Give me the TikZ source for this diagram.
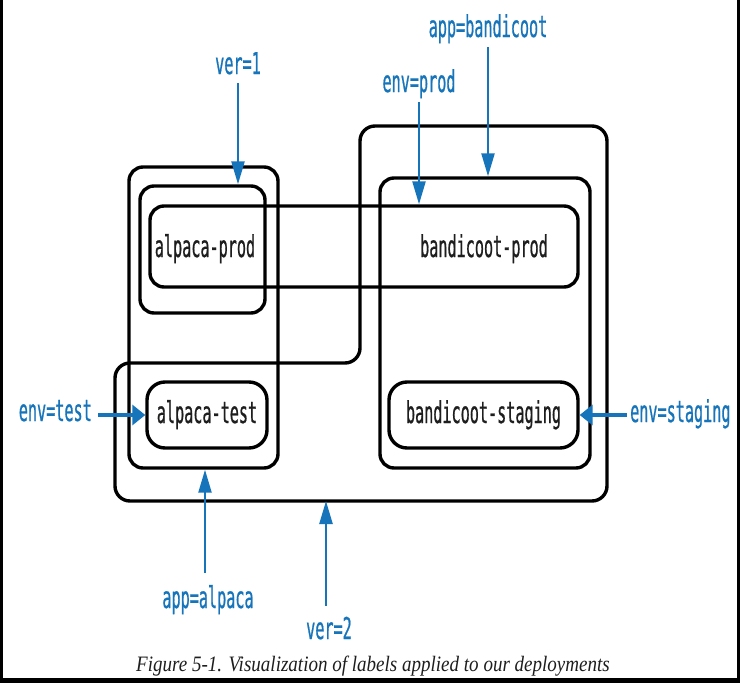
\documentclass[tikz,border=0pt]{standalone}
\usepackage{fontspec}
\usetikzlibrary{arrows.meta,calc}
\newfontfamily\lblfont[FakeStretch=0.505,FakeBold=0.6]{DejaVu Sans Mono}
\newfontfamily\capfont[FakeStretch=0.865]{Liberation Serif}
\definecolor{lblue}{RGB}{22,116,186}
\definecolor{ink}{RGB}{30,30,30}
\begin{document}
\begin{tikzpicture}[x=1pt,y=-1pt,
  grp/.style={draw=black, line width=3.4pt, rounded corners=14pt, inner sep=0pt},
  pod/.style={draw=black, line width=3.4pt, rounded corners=18pt, inner sep=0pt,
    font=\lblfont\fontsize{30}{30}\selectfont, text=ink, text height=22pt, text depth=6pt},
  txt/.style={font=\lblfont\fontsize{30}{30}\selectfont, text=ink, inner sep=0pt},
  lbl/.style={font=\lblfont\fontsize{30}{30}\selectfont, text=lblue, inner sep=0pt},
  arr/.style={draw=lblue, line width=2.3pt, -{Triangle[length=23pt,width=13pt]}},
  harr/.style={draw=lblue, line width=4pt, -{Triangle[length=13pt,width=20pt]}}]
\useasboundingbox (0,0) rectangle (740,683);
\fill[white] (0,0) rectangle (740,683);
% screenshot frame
\fill[black] (0,0) rectangle (3,683);
\fill[black] (737,0) rectangle (740,683);
\fill[black] (0,678) rectangle (740,683);

% ver=2 group (L-shaped)
\draw[line width=3.4pt, rounded corners=15pt]
  (480,126) -- (607,126) -- (607,501) -- (115,501) -- (115,363) -- (360,363) -- (360,126) -- cycle;
\coordinate (ver2bot) at (326,501);

% groups
\node[grp, minimum width=149pt, minimum height=301pt] (alpacaApp) at (203.5,317.5) {};
\node[grp, minimum width=125pt, minimum height=127pt] (ver1box) at (202.5,249.5) {};
\node[grp, minimum width=428pt, minimum height=81pt] (prodbox) at (364,246.5) {};
\node[grp, minimum width=210pt, minimum height=290pt] (bandApp) at (485,323) {};

% deployments
\node[txt, anchor=base] (alpacaProd) at (205,257) {alpaca-prod};
\node[txt, anchor=base] (bandProd) at (484,257) {bandicoot-prod};
\node[pod, minimum width=120pt, minimum height=66pt] (alpacaTest) at (207,415) {alpaca-test};
\node[pod, minimum width=189pt, minimum height=66pt] (bandStaging) at (483.5,415) {bandicoot-staging};

% labels
\node[lbl, anchor=base] (ver1lbl) at (238,74) {ver=1};
\node[lbl, anchor=base] (prodlbl) at (419,92) {env=prod};
\node[lbl, anchor=base] (bandlbl) at (488,37) {app=bandicoot};
\node[lbl, anchor=base] (alpacalbl) at (208,608) {app=alpaca};
\node[lbl, anchor=base] (ver2lbl) at (329,639) {ver=2};
\node[lbl, anchor=base east] (testlbl) at (92,421) {env=test};
\node[lbl, anchor=base west] (stglbl) at (630,422) {env=staging};

% arrows
\draw[arr] ([yshift=-9pt]ver1lbl.base) -- (ver1lbl.base |- ver1box.north);
\draw[arr] ([yshift=-10pt]prodlbl.base) -- (prodlbl.base |- prodbox.north);
\draw[arr] ([yshift=-10pt]bandlbl.base) -- (bandlbl.base |- bandApp.north);
\draw[arr] ($(alpacalbl.north)+(-3,-12)$) -- ($(alpacalbl.north |- alpacaApp.south)+(-3,0)$);
\draw[arr] ($(ver2lbl.north)+(-3,-11)$) -- ($(ver2lbl.north |- ver2bot)+(-3,0)$);
\draw[harr] ($(testlbl.east |- alpacaTest.west)+(6,0)$) -- (alpacaTest.west);
\draw[harr] ($(stglbl.west |- bandStaging.east)+(-3,0)$) -- (bandStaging.east);

% caption
\node[font=\capfont\itshape\fontsize{22}{22}\selectfont, text=ink, inner sep=0pt, anchor=base] (caption) at (373,671)
  {Figure 5-1. Visualization of labels applied to our deployments};
\end{tikzpicture}
\end{document}
